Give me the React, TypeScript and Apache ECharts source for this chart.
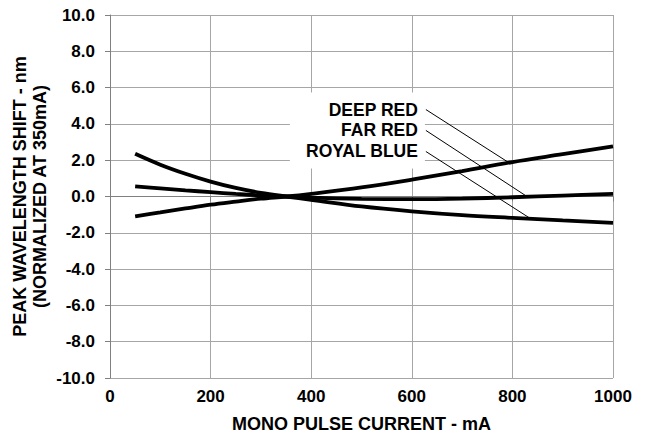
import React, { useEffect, useRef } from "react";
import * as echarts from "echarts";

const currents = [50, 100, 150, 200, 250, 300, 350, 400, 500, 600, 700, 800, 900, 1000];
const deepRed = [-1.09, -0.88, -0.66, -0.45, -0.28, -0.12, 0, 0.15, 0.5, 0.93, 1.4, 1.9, 2.33, 2.76];
const farRed = [0.56, 0.45, 0.34, 0.24, 0.14, 0.06, 0, -0.06, -0.13, -0.15, -0.12, -0.04, 0.05, 0.15];
const royalBlue = [2.35, 1.75, 1.25, 0.82, 0.47, 0.2, 0, -0.18, -0.55, -0.82, -1.03, -1.18, -1.32, -1.45];

const seriesNames = ["DEEP RED", "FAR RED", "ROYAL BLUE"];
const seriesValues = [deepRed, farRed, royalBlue];

// leader-line anchors (label end) and targets on the curves, in data units
const labelAnchorX = 628;
const labelAnchorY = [4.79, 3.64, 2.48];
const leaderTargetX = [791, 829, 835];
const leaderTargetY = [1.9, 0.0, -1.2];

const xAxisTitle = "MONO PULSE CURRENT - mA";
const yAxisTitle = ["PEAK WAVELENGTH SHIFT - nm", "(NORMALIZED AT 350mA)"];

const FONT = 'Arial, "Liberation Sans", Helvetica, sans-serif';

export default function App() {
  const ref = useRef<HTMLDivElement>(null);
  useEffect(() => {
    document.body.style.margin = "0";
    const chart = echarts.init(ref.current!, null, { renderer: "svg" });
    const curveSeries = seriesNames.map((name, i) => ({
      name,
      type: "line",
      smooth: 0.35,
      symbol: "none",
      z: 3,
      lineStyle: { color: "#000", width: 3.8 },
      data: currents.map((c, j) => [c, seriesValues[i][j]]),
    }));
    const leaderSeries = seriesNames.map((name, i) => ({
      name: name + " leader",
      type: "line",
      symbol: "none",
      z: 4,
      lineStyle: { color: "#000", width: 1 },
      data: [
        [labelAnchorX, labelAnchorY[i]],
        [leaderTargetX[i], leaderTargetY[i]],
      ],
    }));
    chart.setOption({
      animation: false,
      grid: { left: 110, right: 34, top: 15, bottom: 60, containLabel: false },
      xAxis: {
        type: "value",
        min: 0,
        max: 1000,
        interval: 200,
        axisLine: { show: true, lineStyle: { color: "#808080", width: 1 } },
        axisTick: { show: true, length: 5, lineStyle: { color: "#808080" } },
        axisLabel: {
          color: "#000",
          fontFamily: FONT,
          fontWeight: "bold",
          fontSize: 17,
          margin: 10,
          formatter: (v: number) => String(v),
        },
        splitLine: { show: true, lineStyle: { color: "#a6a6a6", width: 1 } },
      },
      yAxis: {
        type: "value",
        min: -10,
        max: 10,
        interval: 2,
        axisLine: { show: true, lineStyle: { color: "#808080", width: 1 } },
        axisTick: { show: true, length: 5, lineStyle: { color: "#808080" } },
        axisLabel: {
          color: "#000",
          fontFamily: FONT,
          fontWeight: "bold",
          fontSize: 17,
          margin: 15,
          formatter: (v: number) => v.toFixed(1),
        },
        splitLine: { show: true, lineStyle: { color: "#a6a6a6", width: 1 } },
      },
      series: [...curveSeries, ...leaderSeries],
    });

    const anchors = labelAnchorY.map((y) => chart.convertToPixel({ gridIndex: 0 }, [labelAnchorX, y]) as number[]);
    const top = anchors[0];
    const bottom = anchors[anchors.length - 1];
    const gridCenter = chart.convertToPixel({ gridIndex: 0 }, [500, 0]) as number[];

    chart.setOption({
      graphic: [
        {
          type: "rect",
          z: 1,
          shape: { x: top[0] - 136, y: top[1] - 17, width: 135, height: bottom[1] - top[1] + 34 },
          style: { fill: "#fff" },
        },
        ...anchors.map((p, i) => ({
          type: "text",
          z: 5,
          x: p[0] - 8,
          y: p[1],
          style: {
            text: seriesNames[i],
            fill: "#000",
            font: `bold 17.5px ${FONT}`,
            textAlign: "right",
            textVerticalAlign: "middle",
          },
        })),
        {
          type: "text",
          z: 5,
          x: gridCenter[0],
          y: 424,
          style: {
            text: xAxisTitle,
            fill: "#000",
            font: `bold 18px ${FONT}`,
            textAlign: "center",
            textVerticalAlign: "middle",
          },
        },
        ...yAxisTitle.map((t, i) => ({
          type: "text",
          z: 5,
          x: 20 + i * 20,
          y: (15 + 378) / 2,
          rotation: Math.PI / 2,
          style: {
            text: t,
            fill: "#000",
            font: `bold 18px ${FONT}`,
            textAlign: "center",
            textVerticalAlign: "middle",
          },
        })),
      ],
    });
    return () => chart.dispose();
  }, []);
  return <div ref={ref} style={{ width: 647, height: 438 }} />;
}
